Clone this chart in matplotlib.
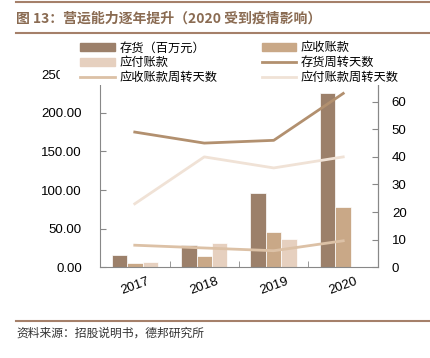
import numpy as np
import matplotlib
matplotlib.use("Agg")
from matplotlib import pyplot as plt
from matplotlib.lines import Line2D
from matplotlib.patches import Rectangle

plt.rcParams['font.family'] = ['Liberation Sans', 'Noto Sans CJK SC', 'DejaVu Sans']

years = ['2017', '2018', '2019', '2020']
inventory = [15.5, 28.5, 96, 226]        # 存货（百万元）
receivable = [5, 14, 46, 78]             # 应收账款
payable = [7, 32, 36, 0]                 # 应付账款
inv_days = [49, 45, 46, 63]              # 存货周转天数
rec_days = [8, 7, 6, 9.6]                # 应收账款周转天数
pay_days = [23, 40, 36, 40]              # 应付账款周转天数

c_inv = '#9c806a'
c_rec = '#c9a887'
c_pay = '#e6d0bf'
c_invd = '#b2906f'
c_recd = '#dcc1a6'
c_payd = '#f0e2d6'
brown = '#a5806a'

fig = plt.figure(figsize=(4.3, 3.58), dpi=100)
ax = fig.add_axes([0.2326, 0.2534, 0.879 - 0.2326, 0.793 - 0.2534])
ax2 = ax.twinx()

x = np.arange(len(years))
w = 0.223
ax.bar(x - w, inventory, w, color=c_inv, edgecolor='white', linewidth=0.5, label='存货（百万元）')
ax.bar(x, receivable, w, color=c_rec, edgecolor='white', linewidth=0.5, label='应收账款')
pay_x = [xi + w for xi, v in zip(x, payable) if v > 0]
ax.bar(pay_x, [v for v in payable if v > 0], w, color=c_pay, edgecolor='white', linewidth=0.5, label='应付账款')

ax2.plot(x, inv_days, color=c_invd, lw=2, label='存货周转天数')
ax2.plot(x, rec_days, color=c_recd, lw=2, label='应收账款周转天数')
ax2.plot(x, pay_days, color=c_payd, lw=2, label='应付账款周转天数')

ax.set_xlim(-0.5, 3.5)
ax.set_ylim(0, 250)
ax2.set_ylim(0, 70)
ax.set_yticks(np.arange(0, 251, 50))
ax.set_yticklabels(['%.2f' % v for v in np.arange(0, 251, 50)], fontsize=9.5)
ax2.set_yticks(np.arange(0, 61, 10))
ax2.set_yticklabels([str(v) for v in range(0, 61, 10)], fontsize=9.5)
ax.set_xticks(x)
ax.set_xticklabels(years, rotation=20, fontsize=9.5)
ax.tick_params(axis='x', length=0, pad=6)
ax.set_xticks([0.5, 1.5, 2.5], minor=True)
ax.tick_params(axis='x', which='minor', direction='in', length=4, color='#888888')
ax.tick_params(axis='y', direction='in', length=4, color='#888888', pad=13)
ax2.tick_params(axis='y', direction='in', length=4, color='#888888', pad=10)

for a in (ax, ax2):
    a.spines['top'].set_visible(False)
    for s in ('left', 'right', 'bottom'):
        a.spines[s].set_color('#888888')
        a.spines[s].set_linewidth(0.8)
ax2.spines['left'].set_visible(False)
ax2.spines['bottom'].set_visible(False)

handles = [
    plt.Rectangle((0, 0), 1, 1, color=c_inv),
    plt.Rectangle((0, 0), 1, 1, color=c_pay),
    Line2D([], [], color=c_recd, lw=2),
    plt.Rectangle((0, 0), 1, 1, color=c_rec),
    Line2D([], [], color=c_invd, lw=2),
    Line2D([], [], color=c_payd, lw=2),
]
labels = ['存货（百万元）', '应付账款', '应收账款周转天数', '应收账款', '存货周转天数', '应付账款周转天数']
leg = fig.legend(handles, labels, ncol=2, loc='upper left', bbox_to_anchor=(0.17, 0.905),
                 frameon=True, fancybox=False, edgecolor='none', framealpha=1,
                 handlelength=2.8, handleheight=0.6, labelspacing=0.15,
                 columnspacing=3.6, borderpad=0.1, handletextpad=0.4,
                 prop={'family': ['Noto Sans CJK SC'], 'size': 8.8})

# the legend box hides part of the top left tick label
fig.add_artist(Rectangle((60 / 430, 1 - 83 / 358), 20 / 430, 16 / 358,
                         transform=fig.transFigure, color='white', zorder=4))

fig.add_artist(Line2D([16 / 430, 1], [1 - 1.5 / 358] * 2, color=brown, lw=1.5))
fig.text(16 / 430, 1 - 19 / 358, '图 13：营运能力逐年提升（2020 受到疫情影响）', fontsize=10,
         fontweight='bold', color='#8a6b52', va='center',
         family=['Noto Sans CJK SC', 'DejaVu Sans'])
fig.add_artist(Line2D([16 / 430, 1], [1 - 33 / 358] * 2, color=brown, lw=1.5))
fig.add_artist(Line2D([16 / 430, 1], [1 - 321 / 358] * 2, color=brown, lw=1.5))
fig.text(16 / 430, 1 - 333 / 358, '资料来源：招股说明书，德邦研究所', fontsize=8.5, color='#333333',
         va='center', family=['Noto Sans CJK SC', 'DejaVu Sans'])

fig.savefig('out.png', dpi=100)
